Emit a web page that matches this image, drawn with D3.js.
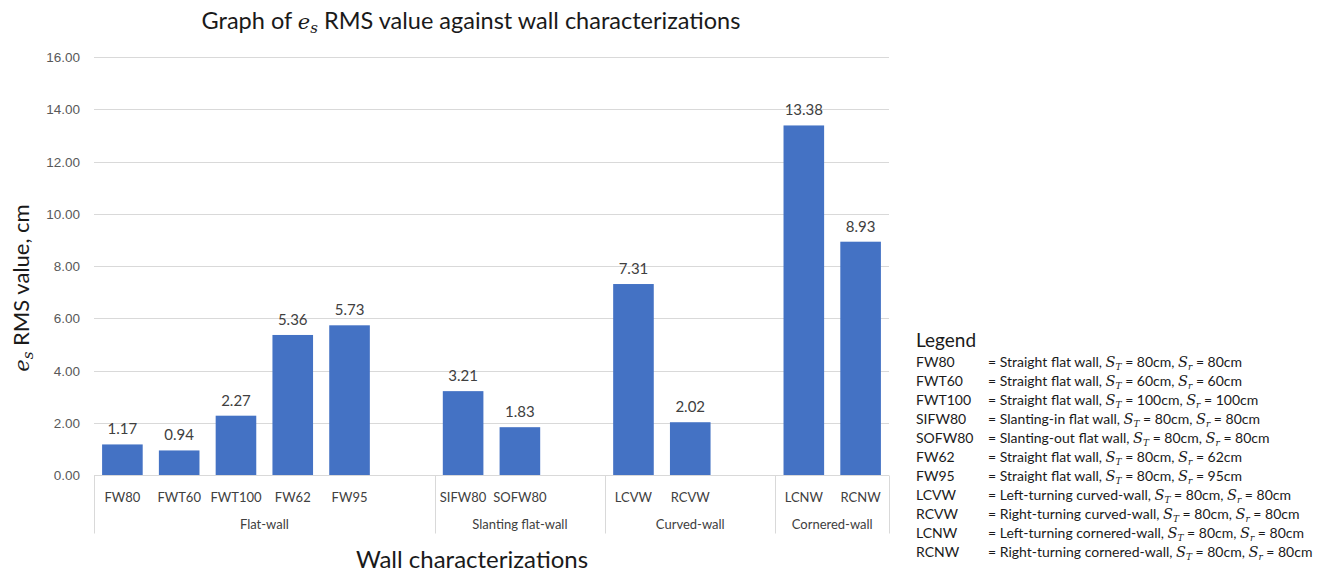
<!DOCTYPE html>
<html>
<head>
<meta charset="utf-8">
<script src="https://cdn.jsdelivr.net/npm/d3@7"></script>
<style>
  body { margin: 0; background: #fff; }
  svg { font-family: Lato, "Noto Sans", sans-serif; }
</style>
</head>
<body>
<div id="chart"></div>
<script>
// données du graphe
const categories = ["FW80", "FWT60", "FWT100", "FW62", "FW95", "", "SIFW80", "SOFW80", "", "LCVW", "RCVW", "", "LCNW", "RCNW"];
const values = [1.17, 0.94, 2.27, 5.36, 5.73, null, 3.21, 1.83, null, 7.31, 2.02, null, 13.38, 8.93];
const groups = ["Flat-wall", "Slanting flat-wall", "Curved-wall", "Cornered-wall"];
const groupSizes = [6, 3, 3, 2];
const yTicks = [0, 2, 4, 6, 8, 10, 12, 14, 16];

const legendCodes = ["FW80", "FWT60", "FWT100", "SIFW80", "SOFW80", "FW62", "FW95", "LCVW", "RCVW", "LCNW", "RCNW"];
const legendDescs = ["Straight flat wall", "Straight flat wall", "Straight flat wall", "Slanting-in flat wall",
  "Slanting-out flat wall", "Straight flat wall", "Straight flat wall", "Left-turning curved-wall",
  "Right-turning curved-wall", "Left-turning cornered-wall", "Right-turning cornered-wall"];
const legendST = ["80cm", "60cm", "100cm", "80cm", "80cm", "80cm", "80cm", "80cm", "80cm", "80cm", "80cm"];
const legendSr = ["80cm", "60cm", "100cm", "80cm", "80cm", "62cm", "95cm", "80cm", "80cm", "80cm", "80cm"];

const width = 1333;
const height = 575;
const margin = { left: 94, right: 444, top: 57, bottom: 100 };

const svg = d3.select("#chart").append("svg")
  .attr("width", width)
  .attr("height", height);

const x = d3.scaleBand()
  .domain(d3.range(categories.length))
  .range([margin.left, width - margin.right])
  .paddingInner(0.285)
  .paddingOuter(0.1425);

const y = d3.scaleLinear()
  .domain([0, 16])
  .range([height - margin.bottom, margin.top]);

const x0 = margin.left, x1 = width - margin.right;
const step = x.step();

// grille
svg.append("g").selectAll("line")
  .data(yTicks)
  .join("line")
  .attr("x1", x0).attr("x2", x1)
  .attr("y1", d => Math.round(y(d)) + 0.5)
  .attr("y2", d => Math.round(y(d)) + 0.5)
  .attr("stroke", "#d9d9d9")
  .attr("stroke-width", 1);

// axe y
const yAxis = svg.append("g")
  .attr("transform", `translate(${x0 - 14},0)`)
  .call(d3.axisLeft(y).tickValues(yTicks).tickFormat(d3.format(".2f")).tickSize(0).tickPadding(0));
yAxis.select(".domain").remove();
yAxis.selectAll("text").attr("font-size", 13.5).attr("fill", "#595959").attr("dy", "0.35em");

// barres
const bars = categories.map((c, i) => ({ c, i, v: values[i] })).filter(d => d.v !== null);
svg.append("g").selectAll("rect")
  .data(bars)
  .join("rect")
  .attr("x", d => x(d.i))
  .attr("width", x.bandwidth())
  .attr("y", d => y(d.v))
  .attr("height", d => y(0) - y(d.v))
  .attr("fill", "#4472c4");

// étiquettes des valeurs
svg.append("g").selectAll("text")
  .data(bars)
  .join("text")
  .attr("x", d => x(d.i) + x.bandwidth() / 2)
  .attr("y", d => y(d.v) - 10)
  .attr("text-anchor", "middle")
  .attr("font-size", 15)
  .attr("fill", "#404040")
  .text(d => d3.format(".2f")(d.v));

// axe x
const axisY = Math.round(y(0)) + 0.5;
svg.append("line")
  .attr("x1", x0).attr("x2", x1)
  .attr("y1", axisY).attr("y2", axisY)
  .attr("stroke", "#d9d9d9");

svg.append("g").selectAll("text")
  .data(categories.map((c, i) => ({ c, i })).filter(d => d.c !== ""))
  .join("text")
  .attr("x", d => x(d.i) + x.bandwidth() / 2)
  .attr("y", axisY + 26)
  .attr("text-anchor", "middle")
  .attr("font-size", 13)
  .attr("fill", "#404040")
  .text(d => d.c);

// groupes
let start = 0;
const groupData = groups.map((g, k) => {
  const d = { g, s: start, n: groupSizes[k] };
  start += groupSizes[k];
  return d;
});
const sepX = [0].concat(groupData.map(d => d.s + d.n));
svg.append("g").selectAll("line")
  .data(sepX)
  .join("line")
  .attr("x1", d => Math.round(x0 + d * step) + 0.5)
  .attr("x2", d => Math.round(x0 + d * step) + 0.5)
  .attr("y1", axisY).attr("y2", axisY + 58)
  .attr("stroke", "#d9d9d9");

svg.append("g").selectAll("text")
  .data(groupData)
  .join("text")
  .attr("x", d => x0 + (d.s + d.n / 2) * step)
  .attr("y", axisY + 53)
  .attr("text-anchor", "middle")
  .attr("font-size", 13)
  .attr("fill", "#404040")
  .text(d => d.g);

// titre
const title = svg.append("text")
  .attr("x", 471).attr("y", 29)
  .attr("text-anchor", "middle")
  .attr("font-size", 23.5)
  .attr("fill", "#1a1a1a");
title.append("tspan").text("Graph of ");
title.append("tspan").attr("font-style", "italic").attr("font-family", "DejaVu Serif").attr("font-size", 21).text("e");
title.append("tspan").attr("font-style", "italic").attr("font-family", "DejaVu Serif").attr("font-size", 15).attr("dy", 4).text("s");
title.append("tspan").attr("dy", -4).text(" RMS value against wall characterizations");

// titre axe x
svg.append("text")
  .attr("x", 472).attr("y", 568)
  .attr("text-anchor", "middle")
  .attr("font-size", 24)
  .attr("fill", "#1a1a1a")
  .text("Wall characterizations");

// titre axe y
const yTitle = svg.append("text")
  .attr("transform", "translate(29,288) rotate(-90)")
  .attr("text-anchor", "middle")
  .attr("font-size", 22)
  .attr("fill", "#1a1a1a");
yTitle.append("tspan").attr("font-style", "italic").attr("font-family", "DejaVu Serif").attr("font-size", 21).text("e");
yTitle.append("tspan").attr("font-style", "italic").attr("font-family", "DejaVu Serif").attr("font-size", 15).attr("dy", 4).text("s");
yTitle.append("tspan").attr("dy", -4).text(" RMS value, cm");

// légende
const lg = svg.append("g").attr("transform", "translate(916,0)");
lg.append("text")
  .attr("x", 0).attr("y", 347)
  .attr("font-size", 19)
  .attr("fill", "#1a1a1a")
  .text("Legend");

const rows = lg.selectAll("g.row")
  .data(legendCodes.map((c, i) => ({ c, i })))
  .join("g")
  .attr("class", "row")
  .attr("transform", d => `translate(0,${367 + d.i * 19})`);

rows.append("text")
  .attr("font-size", 14)
  .attr("fill", "#1a1a1a")
  .text(d => d.c);

rows.append("text")
  .attr("x", 72)
  .attr("font-size", 14)
  .attr("fill", "#1a1a1a")
  .each(function (d) {
    const t = d3.select(this);
    t.append("tspan").text("= " + legendDescs[d.i] + ", ");
    t.append("tspan").attr("font-style", "italic").attr("font-family", "DejaVu Serif").attr("font-size", 14.5).text("S");
    t.append("tspan").attr("font-style", "italic").attr("font-family", "DejaVu Serif").attr("font-size", 9).attr("dy", 3).text("T");
    t.append("tspan").attr("dy", -3).text(" = " + legendST[d.i] + ",  ");
    t.append("tspan").attr("font-style", "italic").attr("font-family", "DejaVu Serif").attr("font-size", 14.5).text("S");
    t.append("tspan").attr("font-style", "italic").attr("font-family", "DejaVu Serif").attr("font-size", 9).attr("dy", 3).text("r");
    t.append("tspan").attr("dy", -3).text(" = " + legendSr[d.i]);
  });
</script>
</body>
</html>
